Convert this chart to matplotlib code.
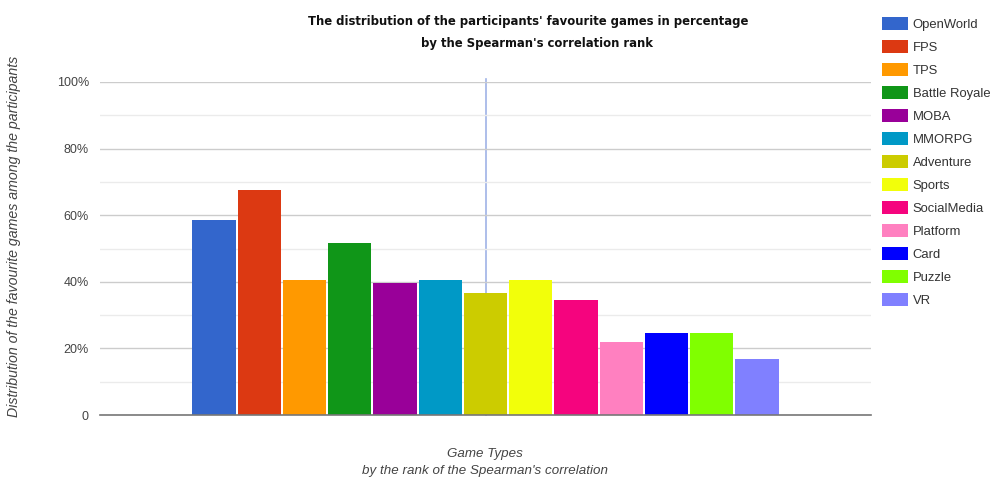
import numpy as np
import matplotlib
matplotlib.use("Agg")
import matplotlib.pyplot as plt
from matplotlib.patches import Patch

games = ["OpenWorld", "FPS", "TPS", "Battle Royale", "MOBA", "MMORPG", "Adventure",
         "Sports", "SocialMedia", "Platform", "Card", "Puzzle", "VR"]
percent = [58.7, 67.5, 40.6, 51.8, 39.7, 40.6, 36.6, 40.6, 34.6, 21.8, 24.6, 24.6, 16.7]
colors = ["#3366cc", "#dc3912", "#ff9900", "#109618", "#990099", "#0099c6", "#cccc00",
          "#f2ff0a", "#f5047e", "#ff80c0", "#0000ff", "#80ff00", "#8080ff"]
yticks = [0, 20, 40, 60, 80, 100]
ytick_labels = ["0", "20%", "40%", "60%", "80%", "100%"]

plt.rcParams["font.family"] = ["Liberation Sans", "DejaVu Sans"]
W, H = 993, 479
fig = plt.figure(figsize=(W / 100, H / 100), dpi=100)
ax = fig.add_axes([100 / W, 1 - 415 / H, 771 / W, 333 / H])

x = np.arange(len(games))
ax.bar(x, percent, width=0.96, color=colors, zorder=3)

ax.set_ylim(0, 100)
ax.set_xlim(-2.52, len(games) + 1.52)
ax.set_yticks(yticks)
ax.set_yticklabels(ytick_labels, color="#444444", fontsize=9)
ax.set_yticks(np.arange(10, 100, 20), minor=True)
ax.tick_params(axis="y", which="both", length=0, pad=8)
ax.set_xticks([])
ax.grid(axis="y", which="major", color="#cccccc", lw=1, zorder=0)
ax.grid(axis="y", which="minor", color="#ebebeb", lw=1, zorder=0)
for s in ["top", "right", "left"]:
    ax.spines[s].set_visible(False)
ax.spines["bottom"].set_color("#777777")
ax.spines["bottom"].set_linewidth(1.2)
ax.spines["bottom"].set_zorder(4)

# vertical cursor line in the middle of the chart
ax.axvline((len(games) - 1) / 2, ymin=0, ymax=1.01, color="#9fb3e6", lw=1.2, zorder=1, clip_on=False)

title_kw = dict(ha="center", va="center", fontsize=8.4, fontweight="bold",
                color="#111111", family="DejaVu Sans")
fig.text(528 / W, 1 - 22 / H, "The distribution of the participants' favourite games in percentage", **title_kw)
fig.text(537 / W, 1 - 44 / H, "by the Spearman's correlation rank", **title_kw)

fig.text(14 / W, 1 - 236 / H, "Distribution of the favourite games among the participants",
         rotation=90, ha="center", va="center", fontsize=10.2, style="italic", color="#444444")
fig.text(485 / W, 1 - 454 / H, "Game Types", ha="center", va="center",
         fontsize=9.6, style="italic", color="#444444")
fig.text(485 / W, 1 - 471 / H, "by the rank of the Spearman's correlation", ha="center", va="center",
         fontsize=9.6, style="italic", color="#444444")

handles = [Patch(facecolor=c, edgecolor="none") for c in colors]
fig.legend(handles, games, loc="upper left", bbox_to_anchor=(882 / W, 1 - 17 / H),
           frameon=False, fontsize=9.4, handlelength=2.0, handleheight=1.2,
           handletextpad=0.35, labelspacing=0.68, borderpad=0, borderaxespad=0,
           labelcolor="#333333")

fig.savefig("out.png", dpi=100)
